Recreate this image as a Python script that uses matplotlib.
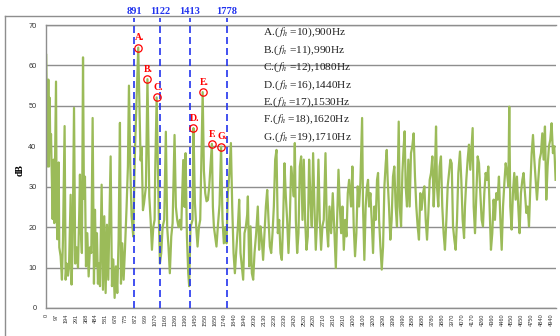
import matplotlib.pyplot as plt

plt.rcParams['mathtext.fontset'] = 'stix'

# spectrum (Hz, dB)
freq = [0, 14, 21, 27, 34, 40, 47, 57, 63, 73, 79, 86, 96, 102, 109, 122, 128, 141, 154, 164,
        180, 190, 200, 213, 223, 239, 248, 258, 272, 284, 297, 311, 323, 330, 340, 349, 360, 369, 379, 389,
        402, 415, 428, 441, 454, 467, 477, 487, 496, 506, 516, 526, 542, 555, 568, 581, 594, 607, 630, 643,
        656, 669, 682, 695, 708, 721, 731, 744, 757, 770, 786, 799, 809, 822, 835, 851, 868, 884,
        900, 923, 933, 946, 956, 975,
        990, 1008, 1021, 1034, 1047, 1060, 1066, 1080, 1099, 1112, 1125, 1138, 1154, 1170, 1183, 1196,
        1209, 1223, 1236, 1255, 1268, 1281, 1294, 1307, 1320, 1340, 1353, 1363, 1376, 1389, 1398, 1411,
        1431, 1440, 1454, 1467, 1480, 1493, 1506, 1519, 1530, 1542, 1555, 1568, 1581, 1594, 1620, 1630,
        1640, 1652, 1665, 1678, 1695, 1710, 1724, 1737, 1750, 1763, 1776, 1789, 1806, 1819, 1832, 1845,
        1858, 1874, 1887, 1900, 1913, 1926, 1939, 1952, 1965,
        1972, 1985, 1998, 2011, 2024, 2037, 2053, 2069, 2082, 2095, 2108, 2121, 2134, 2148, 2161, 2174,
        2187, 2200, 2213, 2226, 2239, 2252, 2265, 2278, 2291, 2304, 2317, 2330, 2343, 2356, 2369, 2382,
        2395, 2408, 2421, 2431, 2441, 2454, 2467, 2480, 2493, 2506, 2519, 2532, 2545, 2558, 2571, 2584,
        2597, 2610, 2623, 2636, 2649, 2662, 2675, 2688, 2701, 2714, 2731, 2744, 2757, 2770, 2786, 2802,
        2816, 2832, 2845, 2858, 2871, 2884, 2897, 2910, 2923, 2936, 2949, 2962,
        2981, 2994, 3007, 3020, 3033, 3046, 3059, 3072, 3089, 3098, 3111, 3124, 3137, 3147, 3157, 3170,
        3183, 3196, 3209, 3222, 3235, 3245, 3255, 3268, 3281, 3294, 3307, 3320, 3330, 3339, 3352, 3365,
        3378, 3391, 3404, 3417, 3430, 3447, 3457, 3470, 3483, 3496, 3505, 3515, 3528, 3541, 3554, 3567,
        3580, 3593, 3606, 3619, 3632, 3645, 3658, 3671, 3685, 3698, 3711, 3724, 3737, 3750, 3763, 3776,
        3789, 3799, 3812, 3821, 3834, 3847, 3860, 3873, 3886, 3899, 3913, 3926, 3939, 3952,
        3965, 3978, 3991, 4004, 4017, 4030, 4046, 4059, 4072, 4086, 4095, 4108, 4121, 4134, 4147, 4160,
        4170, 4180, 4193, 4206, 4219, 4232, 4245, 4258, 4271, 4284, 4297, 4310, 4323, 4336, 4349, 4362,
        4375, 4388, 4401, 4414, 4427, 4441, 4454, 4467, 4480, 4493, 4506, 4519, 4528, 4538, 4551, 4564,
        4577, 4590, 4603, 4616, 4629, 4642, 4656, 4668, 4682, 4695, 4708, 4721, 4734, 4747, 4760, 4773,
        4786, 4799, 4812, 4825, 4838, 4851, 4864, 4877, 4890, 4903, 4916, 4929, 4942, 4955, 4968, 4981]
db = [62.6, 35, 56.5, 35, 52, 39, 43, 30, 22, 36.7, 21, 35, 56, 23.5, 17, 36, 15, 12.8, 7, 17,
      45, 7, 11, 8, 10, 28, 5.8, 15, 49.5, 11, 15, 10, 23.5, 33, 18.5, 13.6, 62, 27, 32.5, 10.3,
      18.5, 7.8, 15, 13.6, 47, 6, 24.3, 10.3, 18.5, 6, 11, 5.4, 30.5, 4.5, 22.7, 3.7, 20.6, 7, 37.5, 5.4,
      12, 2.5, 10.3, 3.7, 17, 45.8, 6, 16, 7, 14.4, 25, 35, 55, 35, 22.7, 17.7, 39, 51.5,
      64.4, 36.5, 39.8, 24.2, 25.8, 30,
      56.6, 27.6, 21.8, 14.4, 20, 21.8, 34, 52.1, 25, 11, 13.6, 20, 21.8, 43.6, 20, 15,
      8.6, 17.7, 21, 42.8, 25, 21.8, 20, 21.8, 19.4, 36.6, 25, 38.3, 17.7, 8.6, 5.4, 20,
      21.8, 44.5, 26, 20, 15.2, 20, 21.8, 38.3, 53.4, 34, 28.4, 26.4, 26.7, 30, 40.6, 25,
      20, 17.7, 15.2, 20, 25.6, 39.9, 21.8, 16, 20, 16, 28.4, 32.5, 40.8, 25, 13.6, 8.6,
      14, 20, 26.8, 13.6, 10.3, 7, 18.5, 20, 23,
      27.6, 10.3, 20.2, 8.6, 7.0, 13.6, 18.5, 25.1, 14.4, 20.2, 16.9, 11.9, 18.5, 25.1, 29.2, 21.8,
      15.2, 13.6, 18.5, 25.1, 36.7, 39.1, 18.5, 21.8, 13.6, 11.9, 21.8, 35.8, 27.6, 21.8, 13.6, 21.8,
      35.0, 31.7, 27.6, 40.8, 21.8, 13.6, 18.5, 35.0, 37.5, 21.8, 36.7, 21.8, 14.4, 17.7, 36.7, 26.8,
      20.2, 38.3, 25.1, 14.4, 21.8, 36.7, 21.8, 14.4, 20.2, 21.8, 38.3, 20.2, 15.2, 25.1, 18.5, 28.4,
      20.2, 9.9, 21.8, 34.2, 25.1, 18.5, 25.1, 14.4, 21.8, 17.7, 28.4, 31.7,
      25.1, 35.0, 20.2, 12.8, 18.5, 30.1, 25.1, 30.9, 47.0, 25.1, 11.9, 25.1, 30.1, 31.7, 25.1, 28.4,
      21.8, 13.6, 25.1, 21.8, 31.7, 33.4, 21.8, 15.2, 9.5, 15.2, 30.1, 35.8, 39.1, 31.7, 25.1, 16.9,
      21.8, 32.5, 35.0, 25.1, 20.2, 46.1, 25.1, 20.2, 33.4, 40.0, 43.7, 30.1, 25.1, 36.7, 25.1, 38.3,
      40.0, 43.2, 32.5, 25.1, 20.2, 16.9, 28.4, 24.3, 28.4, 30.1, 21.8, 16.9, 23.5, 31.7, 33.4, 37.5,
      25.1, 31.7, 44.9, 30.1, 25.1, 35.0, 37.5, 25.1, 18.5, 14.4, 21.8, 30.1, 33.4, 36.7,
      35.8, 20.2, 16.9, 14.4, 21.8, 33.4, 38.7, 31.7, 21.8, 17.3, 25.1, 31.7, 36.7, 40.4, 34.2, 40.0,
      44.5, 25.1, 18.5, 28.4, 37.5, 35.8, 28.4, 21.8, 20.2, 28.4, 33.4, 31.7, 35.0, 25.1, 14.4, 18.5,
      26.8, 21.8, 28.4, 26.8, 32.5, 21.8, 14.4, 25.1, 30.9, 35.8, 33.4, 30.1, 49.8, 25.1, 19.4, 28.4,
      33.4, 26.8, 32.5, 25.1, 18.5, 28.4, 31.7, 33.4, 28.4, 23.5, 25.1, 20.2, 30.1, 38.3, 42.8, 36.7,
      31.7, 26.8, 31.7, 36.7, 38.3, 43.2, 36.7, 44.9, 26.8, 35.0, 40.0, 41.6, 45.7, 38.3, 40.0, 31.7]

x_labels = ['0', '97', '194', '291', '388', '484', '581', '678', '775', '872', '969', '1070',
            '1160', '1260', '1360', '1450', '1550', '1650', '1740', '1840', '1940', '2030', '2130',
            '2230', '2330', '2420', '2520', '2620', '2710', '2810', '2910', '3000', '3100', '3200',
            '3290', '3390', '3490', '3580', '3680', '3780', '3880', '3970', '4070', '4170', '4260',
            '4360', '4460', '4550', '4650', '4750', '4840', '4940']

# marked harmonics
peak_names = ['A.', 'B.', 'C.', 'D.', 'E.', 'F.', 'G.']
peak_hz = [900, 990, 1080, 1440, 1530, 1620, 1710]
peak_db = [64.4, 56.6, 52.1, 44.5, 53.4, 40.6, 39.9]
peak_order = [10, 11, 12, 16, 17, 18, 19]

# dashed reference lines
line_pos = [862, 1112, 1405, 1765]
line_labels = ['891', '1122', '1413', '1778']

W, H = 560, 336
fig = plt.figure(figsize=(5.6, 3.36), dpi=100)
ax = fig.add_axes([46.2 / W, 28 / H, (556 - 46.2) / W, 283 / H])

ax.plot(freq, db, color='#9BBB59', lw=1.6, zorder=2)
ax.set_xlim(0, 4985)
ax.set_ylim(0, 70)

ax.set_yticks(range(0, 71, 10))
ax.yaxis.grid(True, color='#8e8e8e', lw=1.0)
ax.set_axisbelow(True)
step = 4940 / (len(x_labels) - 1)
ax.set_xticks([i * step for i in range(len(x_labels))])
ax.set_xticklabels(x_labels, rotation=90, fontsize=4, family='Liberation Sans', color='#333333')
for t in ax.get_yticklabels():
    t.set_family('Liberation Sans')
ax.tick_params(axis='y', length=0, pad=7, labelsize=5.3, labelcolor='#333333')
ax.tick_params(axis='x', length=0, pad=4)
for s in ['left', 'bottom', 'top']:
    ax.spines[s].set_color('#8e8e8e')
    ax.spines[s].set_linewidth(1.0)
ax.spines['right'].set_visible(False)

for pos, lab in zip(line_pos, line_labels):
    ax.plot([pos, pos], [0, 71.8], ls=(0, (4.2, 2.4)), color='#2233ee', lw=1.2,
            clip_on=False, zorder=3)
    ax.text(pos, 73.3, lab, ha='center', va='center', fontsize=7.5, fontweight='bold',
            family='Liberation Serif', color='#2233ee', clip_on=False)

ax.plot(peak_hz, peak_db, 'o', mfc='none', mec='red', ms=5.3, mew=0.9, zorder=4)
for name, hz, d in zip(peak_names, peak_hz, peak_db):
    ax.annotate(name, (hz, d), xytext=(0.8, 7), textcoords='offset points',
                ha='center', va='center', fontsize=7, fontweight='bold',
                family='Liberation Serif', color='red')

for i, (name, n, hz) in enumerate(zip(peak_names, peak_order, peak_hz)):
    fig.text(262.7 / W, 1 - (32.7 + i * 17.4) / H,
             name + r'($\,f_h$ =' + str(n) + '),' + str(hz) + 'Hz',
             ha='left', va='center', fontsize=8.2, family='Liberation Serif', color='#222222')

fig.text(20 / W, 1 - 170 / H, 'dB', rotation=90, ha='center', va='center', fontsize=7,
         fontweight='bold', family='Liberation Serif')

# chart area border
fig.add_artist(plt.Line2D([5 / W, 1], [1 - 16 / H, 1 - 16 / H], transform=fig.transFigure,
                          color='#8e8e8e', lw=1.0))
fig.add_artist(plt.Line2D([5 / W, 5 / W], [0, 1 - 16 / H], transform=fig.transFigure,
                          color='#8e8e8e', lw=1.0))

fig.savefig('out.png', dpi=100)
